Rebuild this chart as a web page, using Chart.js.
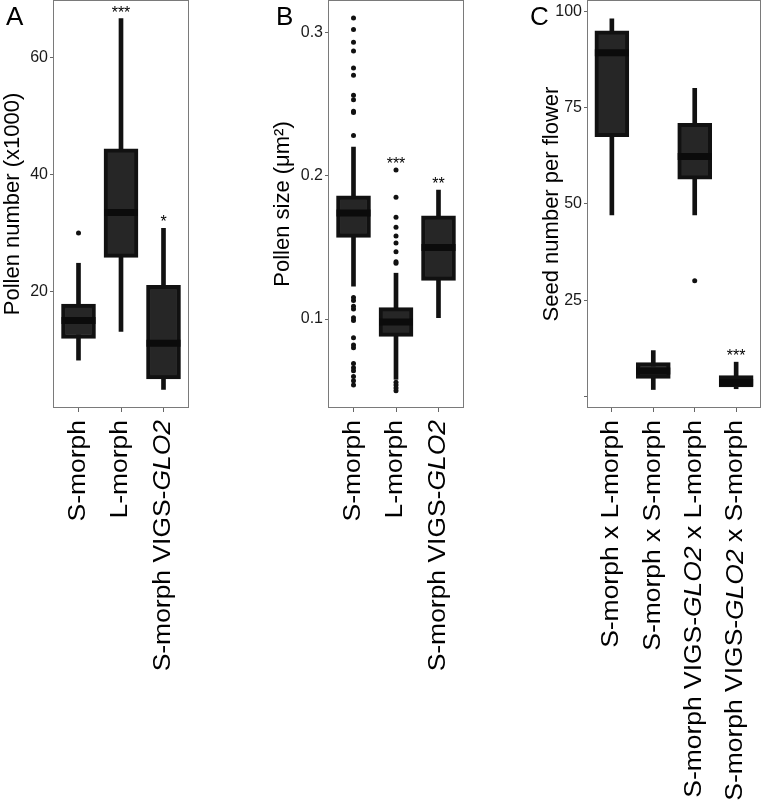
<!DOCTYPE html>
<html>
<head>
<meta charset="utf-8">
<script src="https://cdn.jsdelivr.net/npm/chart.js@4.4.0/dist/chart.umd.min.js"></script>
<style>
  body{margin:0;background:#fff;width:762px;height:807px;position:relative;overflow:hidden;font-family:"Liberation Sans",Arial,sans-serif}
  canvas{position:absolute;top:0}
  .tag{position:absolute;top:3px;font-size:26px;line-height:26px;color:#000}
</style>
</head>
<body>
<canvas id="chartA" width="255" height="807" style="left:0"></canvas>
<canvas id="chartB" width="255" height="807" style="left:255px"></canvas>
<canvas id="chartC" width="252" height="807" style="left:510px"></canvas>
<div class="tag" style="left:6px">A</div>
<div class="tag" style="left:276px">B</div>
<div class="tag" style="left:530px">C</div>
<script>
/* A - pollen number */
const catsA = ["S-morph", "L-morph", "S-morph VIGS-GLO2"];
const lowA  = [8.2, 13.1, 3.2];
const q1A   = [11.9, 25.8, 5.0];
const medA  = [15.0, 33.5, 11.1];
const q3A   = [17.8, 44.4, 21.0];
const highA = [24.8, 66.7, 30.8];
const outA  = [[30.0], [], []];
const sigA  = ["", "***", "*"];
const ticksA = [20, 40, 60];

/* B - pollen size */
const catsB = ["S-morph", "L-morph", "S-morph VIGS-GLO2"];
const lowB  = [0.123, 0.058, 0.101];
const q1B   = [0.157, 0.088, 0.127];
const medB  = [0.174, 0.098, 0.150];
const q3B   = [0.186, 0.108, 0.172];
const highB = [0.220, 0.132, 0.190];
const outB  = [
  [0.310, 0.302, 0.293, 0.287, 0.275, 0.270, 0.256, 0.253, 0.245, 0.244, 0.228,
   0.115, 0.113, 0.109, 0.107, 0.101, 0.099, 0.087, 0.082, 0.080, 0.069, 0.066, 0.064, 0.060, 0.057, 0.054],
  [0.204, 0.185, 0.171, 0.164, 0.158, 0.153, 0.147, 0.140, 0.139, 0.056, 0.054, 0.052, 0.050],
  []
];
const sigB  = ["", "***", "**"];
const ticksB = [0.1, 0.2, 0.3];

/* C - seed number */
const catsC = ["S-morph x L-morph", "S-morph x S-morph", "S-morph VIGS-GLO2 x L-morph", "S-morph VIGS-GLO2 x S-morph"];
const lowC  = [47.1, 1.8, 47.1, 2.0];
const q1C   = [67.4, 4.7, 56.4, 2.5];
const medC  = [89.2, 6.6, 62.3, 3.6];
const q3C   = [94.9, 8.8, 70.9, 5.4];
const highC = [98.0, 11.9, 80.0, 8.9];
const outC  = [[], [], [30.0], []];
const sigC  = ["", "", "", "***"];
const ticksC = [0, 25, 50, 75, 100];

const FONT = '"Liberation Sans", Arial, sans-serif';
Chart.defaults.font.family = FONT;

const frame = {
  id: "frame",
  afterDraw(chart) {
    const {ctx, chartArea: a} = chart;
    ctx.save();
    ctx.strokeStyle = "#7a7a7a";
    ctx.lineWidth = 1;
    ctx.strokeRect(a.left + 0.5, a.top + 0.5, a.right - a.left - 1, a.bottom - a.top - 1);
    ctx.restore();
  }
};

// rotated category labels, gene name in italics
const xLabels = {
  id: "xLabels",
  afterDraw(chart, args, opts) {
    const {ctx, scales: {x}} = chart;
    opts.labels.forEach((text, i) => {
      const parts = text.split(/(GLO2)/).filter(Boolean);
      const fonts = parts.map(p => (p === "GLO2" ? "italic " : "") + "23px " + FONT);
      const widths = parts.map((p, k) => { ctx.font = fonts[k]; return ctx.measureText(p).width; });
      ctx.save();
      ctx.translate(x.getPixelForValue(i + 1), x.top + 12);
      ctx.scale(1, 1.15);
      ctx.rotate(-Math.PI / 2);
      ctx.fillStyle = "#000";
      ctx.textAlign = "left";
      ctx.textBaseline = "middle";
      let cur = -widths.reduce((s, w) => s + w, 0);
      parts.forEach((p, k) => { ctx.font = fonts[k]; ctx.fillText(p, cur, 0); cur += widths[k]; });
      ctx.restore();
    });
  }
};

const sigMarks = {
  id: "sigMarks",
  afterDatasetsDraw(chart, args, opts) {
    const {ctx, scales: {x, y}} = chart;
    ctx.save();
    ctx.font = "16px " + FONT;
    ctx.fillStyle = "#000";
    ctx.textAlign = "center";
    ctx.textBaseline = "alphabetic";
    opts.marks.forEach((m, i) => {
      if (!m) return;
      const top = Math.max(opts.high[i], ...opts.out[i]);
      ctx.fillText(m, x.getPixelForValue(i + 1), y.getPixelForValue(top) - 1);
    });
    ctx.restore();
  }
};

function boxPanel(id, p) {
  const n = p.cats.length;
  const outliers = p.out.flatMap((vals, i) => vals.map(v => ({x: i + 1, y: v})));
  return new Chart(document.getElementById(id), {
    type: "bar",
    data: {
      datasets: [
        {
          type: "bar", order: 3, grouped: false, barThickness: 4,
          data: p.cats.map((c, i) => ({x: i + 1, y: [p.low[i], p.high[i]]})),
          backgroundColor: "#111"
        },
        {
          type: "bar", order: 2, grouped: false, barThickness: 34,
          data: p.cats.map((c, i) => ({x: i + 1, y: [p.q1[i], p.q3[i]]})),
          backgroundColor: "#262626", borderColor: "#111", borderWidth: 4, borderSkipped: false
        },
        {
          type: "line", order: 1, showLine: false,
          data: p.cats.map((c, i) => ({x: i + 1, y: p.med[i]})),
          pointStyle: "line", pointRadius: 17, pointBorderWidth: 7, pointBorderColor: "#0b0b0b"
        },
        {
          type: "line", order: 0, showLine: false,
          data: outliers,
          pointRadius: 2.5, pointBackgroundColor: "#111", pointBorderWidth: 0
        }
      ]
    },
    options: {
      responsive: false,
      animation: false,
      devicePixelRatio: 1,
      layout: {autoPadding: false, padding: {left: 0, right: p.padRight, top: 0, bottom: 0}},
      plugins: {
        legend: {display: false},
        tooltip: {enabled: false},
        xLabels: {labels: p.cats},
        sigMarks: {marks: p.sig, high: p.high, out: p.out}
      },
      scales: {
        x: {
          type: "linear", min: 0.4, max: n + 0.6, offset: false,
          afterBuildTicks: s => { s.ticks = p.cats.map((c, i) => ({value: i + 1})); },
          afterFit: s => { s.height = 807 - 408; s.paddingLeft = 0; s.paddingRight = 0; },
          ticks: {display: false},
          grid: {drawOnChartArea: false, drawTicks: true, tickLength: 4, color: "#666", offset: false},
          border: {display: false}
        },
        y: {
          min: p.min, max: p.max,
          afterBuildTicks: s => { s.ticks = p.ticks.map(v => ({value: v})); },
          afterFit: s => { s.width = p.axisW; s.paddingTop = 0; s.paddingBottom = 0; },
          ticks: {
            font: {size: 16}, color: "#1a1a1a", padding: 2,
            callback: v => (v === 0 ? "" : String(v))
          },
          grid: {drawOnChartArea: false, drawTicks: true, tickLength: 3, color: "#666"},
          border: {display: false},
          title: {display: true, text: p.title, font: {size: 22}, color: "#000", padding: {top: p.titlePad, bottom: 0}}
        }
      }
    },
    plugins: [frame, xLabels, sigMarks]
  });
}

boxPanel("chartA", {
  cats: catsA, low: lowA, q1: q1A, med: medA, q3: q3A, high: highA, out: outA, sig: sigA,
  ticks: ticksA, min: 0, max: 69.9, title: "Pollen number (x1000)",
  axisW: 53, padRight: 66, titlePad: 0
});

boxPanel("chartB", {
  cats: catsB, low: lowB, q1: q1B, med: medB, q3: q3B, high: highB, out: outB, sig: sigB,
  ticks: ticksB, min: 0.038, max: 0.3225, title: "Pollen size (μm²)",
  axisW: 73, padRight: 46, titlePad: 15
});

boxPanel("chartC", {
  cats: catsC, low: lowC, q1: q1C, med: medC, q3: q3C, high: highC, out: outC, sig: sigC,
  ticks: ticksC, min: -3.0, max: 102.9, title: "Seed number per flower",
  axisW: 77, padRight: 1, titlePad: 29
});
</script>
</body>
</html>
